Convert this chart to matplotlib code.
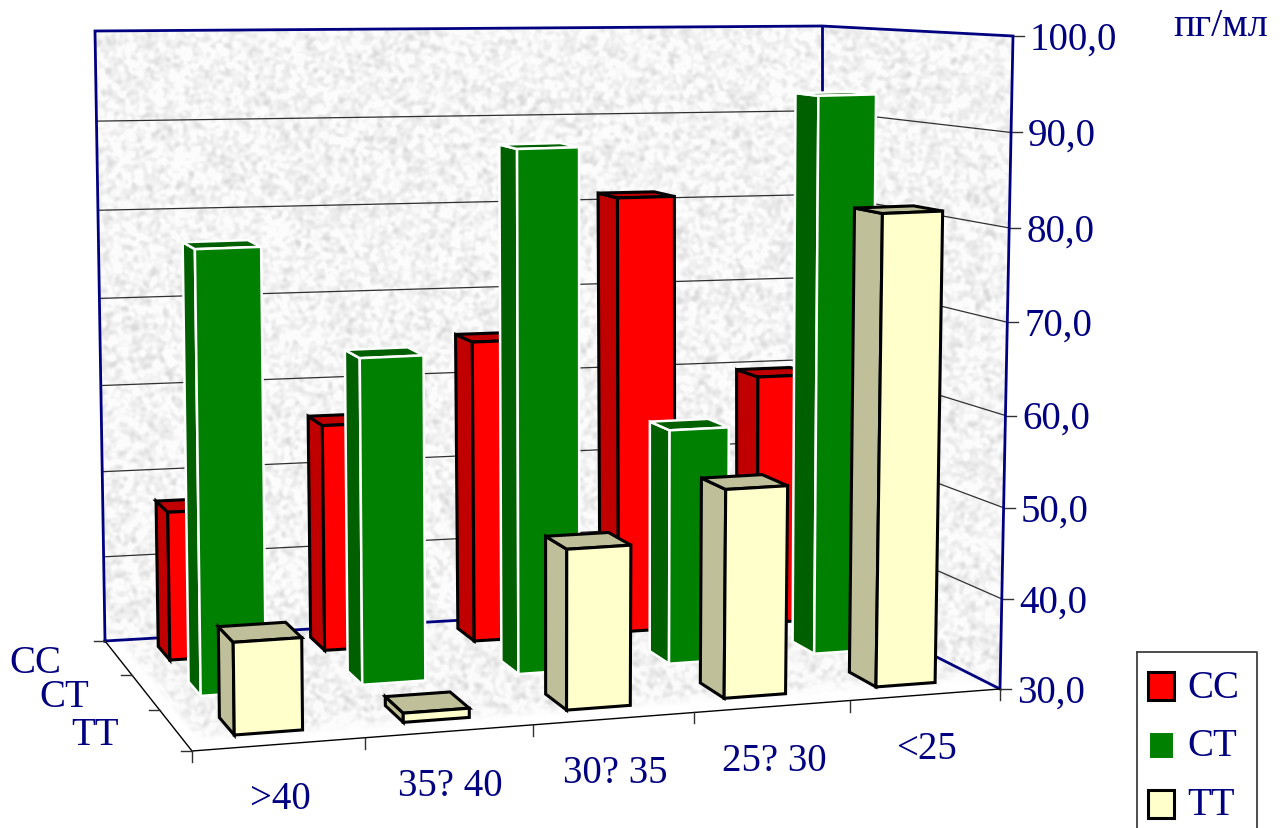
import numpy as np
import matplotlib
matplotlib.use("Agg")
import matplotlib.pyplot as plt
from matplotlib.patches import Polygon, Rectangle

# значения по группам
categories = ['>40', '35? 40', '30? 35', '25? 30', '<25']
series = ['CC', 'CT', 'TT']
cc_values = [47.1, 56.2, 65.1, 81.1, 59.7]
ct_values = [78.7, 66.3, 88.3, 56.7, 93.2]
tt_values = [39.9, 31.0, 47.5, 52.9, 81.6]
value_ticks = [30, 40, 50, 60, 70, 80, 90, 100]
value_labels = ['30,0', '40,0', '50,0', '60,0', '70,0', '80,0', '90,0', '100,0']

W, H = 1282, 829
NAVY = '#000080'
plt.rcParams['font.family'] = ['Liberation Serif', 'DejaVu Serif']

# углы трёхмерного ящика в пикселях: низ и верх, (перед/зад, лево/право)
floor_fl, floor_fr = np.array([192., 752.]), np.array([1000., 690.])
floor_bl, floor_br = np.array([105., 642.]), np.array([822., 600.])
top_fl, top_fr = np.array([183., 62.]), np.array([1013., 37.])
top_bl, top_br = np.array([95., 32.]), np.array([822., 27.])

# глубина столбиков каждого ряда (0 - перед, 1 - задняя стенка)
row_depth = {'CC': (0.80, 0.925), 'CT': (0.47, 0.60), 'TT': (0.11, 0.27)}
row_scale = {'CC': 0.992, 'CT': 0.995, 'TT': 0.998}
face_colors = {'CC': '#FF0000', 'CT': '#008000', 'TT': '#FFFFCC'}
side_colors = {'CC': '#C00000', 'CT': '#006000', 'TT': '#BFBF99'}
edge_colors = {'CC': 'black', 'CT': 'white', 'TT': 'black'}


def project(u, v, val, scale=1.0):
    # u - позиция по категориям 0..5, v - глубина 0..1, val - значение
    s = u / 5.0
    f = (1.09 * s - 0.09 * s * s) * scale
    t = (val - 30.0) / 70.0
    t = t - 0.04 * t * (1 - t)
    low = (1 - v) * ((1 - f) * floor_fl + f * floor_fr) + v * ((1 - f) * floor_bl + f * floor_br)
    high = (1 - v) * ((1 - f) * top_fl + f * top_fr) + v * ((1 - f) * top_bl + f * top_br)
    return (1 - t) * low + t * high


def speckle(seed, sigma):
    # мелкозернистая серая фактура стенок
    rng = np.random.default_rng(seed)
    noise = rng.normal(size=(H, W))
    fy = np.fft.fftfreq(H)[:, None]
    fx = np.fft.fftfreq(W)[None, :]
    kernel = np.exp(-2 * (np.pi * sigma) ** 2 * (fx ** 2 + fy ** 2))
    smooth = np.fft.ifft2(np.fft.fft2(noise) * kernel).real
    smooth = smooth / smooth.std()
    return np.clip(0.955 - 0.032 * np.clip(smooth, -1.0, 3.0), 0, 1)


def draw_bar(name, i, value):
    d0, d1 = row_depth[name]
    k = row_scale[name]
    x0, x1 = i + 0.3, i + 0.7
    a = project(x0, d0, 30, k)
    b = project(x1, d0, 30, k)
    c = project(x1, d0, value, k)
    e = project(x0, d0, value, k)
    a2 = project(x0, d1, 30, k)
    e2 = project(x0, d1, value, k)
    c2 = project(x1, d1, value, k)
    style = dict(edgecolor=edge_colors[name], linewidth=2.2 if name != 'CT' else 1.8,
                 joinstyle='miter', zorder=10)
    ax.add_patch(Polygon([a2, a, e, e2], facecolor=side_colors[name], **style))
    ax.add_patch(Polygon([e2, e, c, c2], facecolor=side_colors[name], **style))
    ax.add_patch(Polygon([a, b, c, e], facecolor=face_colors[name], **style))


fig = plt.figure(figsize=(W / 100, H / 100), dpi=100)
ax = fig.add_axes([0, 0, 1, 1])
ax.set_xlim(0, W)
ax.set_ylim(H, 0)
ax.axis('off')

# стенки
tex = speckle(3, 1.9)
for poly in ([top_bl, top_br, floor_br, floor_bl], [top_br, top_fr, floor_fr, floor_br]):
    im = ax.imshow(tex, cmap='gray', vmin=0, vmax=1, extent=(0, W, H, 0), aspect='auto', zorder=1)
    im.set_clip_path(Polygon(poly, transform=ax.transData))

# пол, к переднему и левому краю фактура сходит на нет
yy, xx = np.mgrid[0:H, 0:W]
d_front = (floor_fl[1] + (xx - floor_fl[0]) * (floor_fr[1] - floor_fl[1]) / (floor_fr[0] - floor_fl[0])) - yy
d_left = (xx - floor_bl[0]) - (yy - floor_bl[1]) * (floor_fl[0] - floor_bl[0]) / (floor_fl[1] - floor_bl[1])
alpha = np.clip((d_front - 8) / 14, 0, 1) * np.clip((d_left - 12) / 14, 0, 1)
rgba = np.dstack([tex, tex, tex, alpha])
im = ax.imshow(rgba, extent=(0, W, H, 0), aspect='auto', zorder=1)
im.set_clip_path(Polygon([floor_bl, floor_br, floor_fr, floor_fl], transform=ax.transData))

# линии сетки и подписи оси значений
for val, lab in zip(value_ticks, value_labels):
    p_l = project(0, 1, val)
    p_m = project(5, 1, val)
    p_r = project(5, 0, val)
    if 30 < val < 100:
        ax.plot(*zip(p_l, p_m, p_r), color='#303030', lw=0.9, zorder=2)
    ax.plot([p_r[0], p_r[0] + 11], [p_r[1], p_r[1]], color='#303030', lw=1.0, zorder=3)
    ax.text(p_r[0] + 17, p_r[1] + 3, lab, color=NAVY, fontsize=28, ha='left', va='center')

# рамка стенок
ax.plot(*zip(floor_bl, top_bl, top_br, top_fr, floor_fr, floor_br, floor_bl), color=NAVY, lw=2.0,
        solid_joinstyle='miter', zorder=3)
ax.plot(*zip(top_br, floor_br), color=NAVY, lw=2.0, zorder=3)

# передний и левый край пола с засечками
ax.plot(*zip(floor_bl, floor_fl, floor_fr), color='black', lw=1.0, zorder=3)
for i in range(6):
    p = project(i, 0, 30)
    ax.plot([p[0], p[0]], [p[1], p[1] + 11], color='#303030', lw=1.0, zorder=3)
for d in [1, 0.69, 0.37, 0]:
    p = (1 - d) * floor_fl + d * floor_bl
    ax.plot([p[0] - 11, p[0]], [p[1], p[1]], color='#303030', lw=1.0, zorder=3)

# столбики: задний ряд рисуется первым
for name, vals in zip(series, [cc_values, ct_values, tt_values]):
    for i, value in enumerate(vals):
        draw_bar(name, i, value)

# подписи осей
for i, lab in enumerate(categories):
    p = project(i + 0.5, 0, 30)
    ax.text(p[0] + 1, p[1] + 54, lab, color=NAVY, fontsize=28, ha='center', va='center')
for name, d in zip(series, [0.845, 0.53, 0.185]):
    p = (1 - d) * floor_fl + d * floor_bl
    ax.text(p[0] - 57, p[1] + 4, name, color=NAVY, fontsize=28, ha='right', va='center')
ax.text(1173, 26, 'пг/мл', color=NAVY, fontsize=29, ha='left', va='center')

# легенда, низ рамки уходит за край
ax.plot([1137, 1137], [H + 5, 653], color='#404040', lw=1.3, zorder=5)
ax.plot([1137, 1257, 1257], [653, 653, H + 5], color='#404040', lw=1.3, zorder=5)
for name, y in zip(series, [687, 746, 805]):
    ax.add_patch(Rectangle((1148, y - 14), 26, 28, facecolor=face_colors[name],
                           edgecolor=edge_colors[name], linewidth=2.2, zorder=6))
    ax.text(1187, y + 1, name, color=NAVY, fontsize=28, ha='left', va='center')

fig.savefig('out.png', dpi=100)
